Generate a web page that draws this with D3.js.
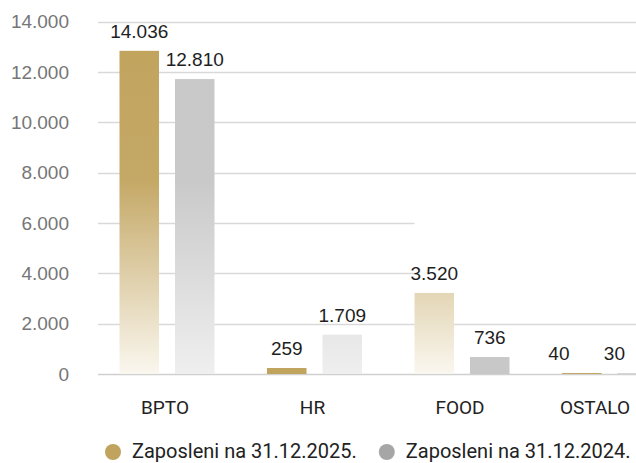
<!DOCTYPE html>
<html><head><meta charset="utf-8">
<script src="https://cdn.jsdelivr.net/npm/d3@7"></script>
<style>
html,body{margin:0;padding:0;background:#fff;}
svg{display:block;}
</style></head>
<body>
<svg id="chart" width="636" height="463"></svg>
<script>
// ---- data ----
const categories = ["BPTO", "HR", "FOOD", "OSTALO"];
const series = ["Zaposleni na 31.12.2025.", "Zaposleni na 31.12.2024."];
const values2025 = [14036, 259, 3520, 40];
const values2024 = [12810, 1709, 736, 30];
const yTicks = [0, 2000, 4000, 6000, 8000, 10000, 12000, 14000];
const seriesColors = ["#c0a35c", "#c8c8c8"];
const legendColors = ["#c0a35c", "#a6a6a6"];
const growth = 0.915; // captured mid-animation: bars drawn at this fraction

const W = 636, H = 463;
const svg = d3.select("#chart");
const fmt = v => d3.format(",")(v).replace(/,/g, ".");

const y = d3.scaleLinear().domain([0, 14000]).range([374, 21.7]);
const x0 = d3.scaleBand().domain(categories).range([93.25, 683.25]).padding(0);
const x1 = d3.scaleBand().domain(series).range([0, x0.bandwidth()])
  .paddingInner(0.288).paddingOuter(0.473);

const data = categories.map((c, i) => ({
  cat: c,
  vals: [{s: series[0], v: values2025[i], k: 0}, {s: series[1], v: values2024[i], k: 1}]
}));

// gradients (user space, top of plot -> baseline)
const defs = svg.append("defs");
const gradStops = [
  [["0", "#c0a35c"], ["0.45", "#c4a866"], ["1", "#faf7ef"]],
  [["0", "#c8c8c8"], ["0.45", "#c9c9c9"], ["1", "#efefef"]]
];
gradStops.forEach((st, k) => {
  const g = defs.append("linearGradient").attr("id", "g" + k)
    .attr("gradientUnits", "userSpaceOnUse")
    .attr("x1", 0).attr("x2", 0).attr("y1", y(14000)).attr("y2", y(0));
  st.forEach(s => g.append("stop").attr("offset", s[0]).attr("stop-color", s[1]));
});

// gridlines
const foodStart = x0("FOOD") + x1(series[0]);
svg.append("g").selectAll("line").data(yTicks).join("line")
  .attr("x1", 98)
  .attr("x2", d => (d === 4000 || d === 6000) ? foodStart : W)
  .attr("y1", d => Math.round(y(d)) + 0.5).attr("y2", d => Math.round(y(d)) + 0.5)
  .attr("stroke", d => d === 0 ? "#d0d0d0" : "#d9d9d9")
  .attr("stroke-width", 1.3);

// y tick labels
svg.append("g").selectAll("text").data(yTicks).join("text")
  .attr("x", 69).attr("y", d => y(d)).attr("dy", "0.35em")
  .attr("text-anchor", "end")
  .style("font-family", "'Liberation Sans', Arial, sans-serif")
  .style("font-size", "19px").attr("fill", "#767676")
  .text(d => fmt(d));

// bars
const groups = svg.append("g").selectAll("g").data(data).join("g")
  .attr("transform", d => `translate(${x0(d.cat)},0)`);

groups.selectAll("rect").data(d => d.vals).join("rect")
  .attr("x", d => x1(d.s))
  .attr("width", x1.bandwidth())
  .attr("y", d => y(d.v * growth))
  .attr("height", d => y(0) - y(d.v * growth))
  .attr("fill", d => (y(0) - y(d.v * growth)) < 20 ? seriesColors[d.k] : `url(#g${d.k})`);

// value labels
const labels = groups.selectAll("text").data(d => d.vals).join("text")
  .attr("x", d => x1(d.s) + x1.bandwidth() / 2)
  .attr("y", d => y(d.v * growth) - 13)
  .attr("text-anchor", "middle")
  .style("font-family", "'Liberation Sans', Arial, sans-serif")
  .style("font-size", "19px").attr("fill", "#1e1e1e")
  .text(d => fmt(d.v));

// keep labels inside the visible area
groups.each(function(d) {
  const g = d3.select(this);
  let maxRight = -Infinity;
  g.selectAll("text").each(function(t) {
    const cx = x0(d.cat) + x1(t.s) + x1.bandwidth() / 2;
    maxRight = Math.max(maxRight, cx + this.getComputedTextLength() / 2);
  });
  const shift = Math.min(0, 625 - maxRight);
  if (shift < 0) g.selectAll("text").attr("transform", `translate(${shift},0)`);
});

// category labels
svg.append("g").selectAll("text").data(categories).join("text")
  .attr("x", d => x0(d) + x0.bandwidth() / 2 - 2)
  .attr("y", 414)
  .attr("text-anchor", "middle")
  .style("font-family", "Roboto, sans-serif")
  .style("font-size", "19px").attr("fill", "#222")
  .text(d => d)
  .each(function() {
    const w = this.getComputedTextLength();
    const cx = +d3.select(this).attr("x");
    if (cx + w / 2 > W - 6) d3.select(this).attr("x", W - 6 - w / 2);
  });

// legend
const leg = svg.append("g");
let lx = 105;
series.forEach((s, k) => {
  leg.append("circle").attr("cx", lx + 8).attr("cy", 452).attr("r", 8).attr("fill", legendColors[k]);
  const t = leg.append("text").attr("x", lx + 27).attr("y", 458)
    .style("font-family", "Roboto, sans-serif")
    .style("font-size", "20px").attr("fill", "#222").text(s);
  lx = lx + 27 + t.node().getComputedTextLength() + 22;
});
</script>
</body></html>
